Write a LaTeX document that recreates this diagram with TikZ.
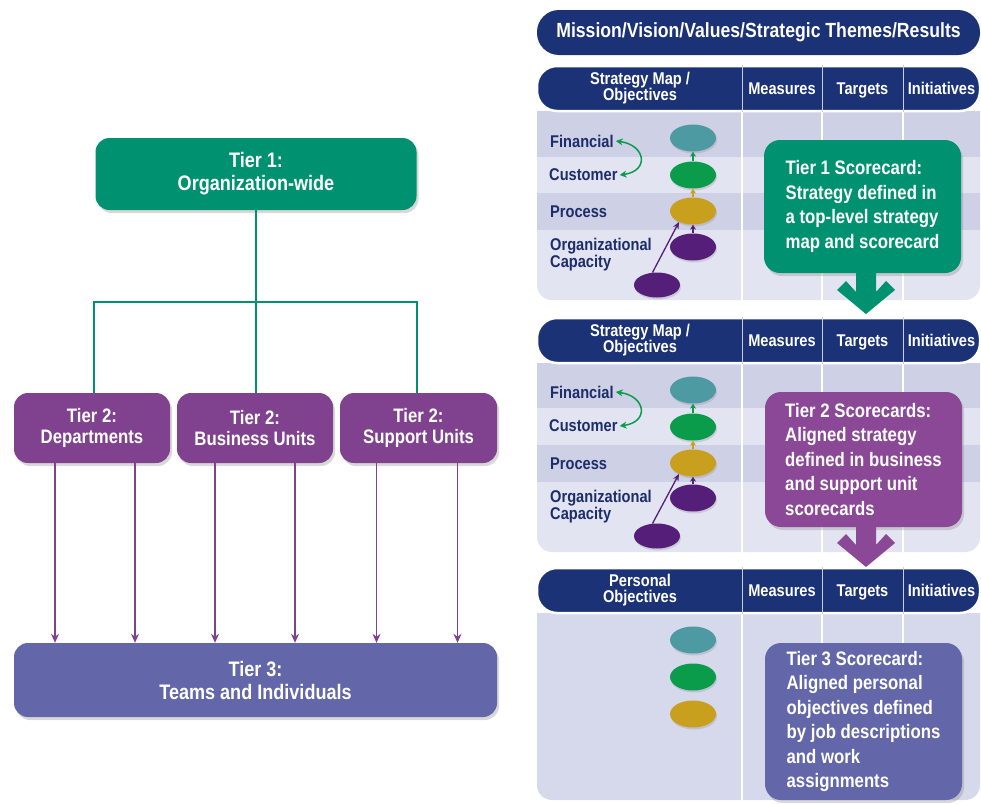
\documentclass[tikz,border=0pt]{standalone}
\usepackage{fontspec}
\setmainfont{Liberation Sans}[FakeStretch=0.86]
\usetikzlibrary{arrows.meta,shadows,shapes.geometric}
\definecolor{navy}{RGB}{27,50,118}
\definecolor{tgreen}{RGB}{0,146,112}
\definecolor{tpurple}{RGB}{128,66,143}
\definecolor{cpurple}{RGB}{138,72,150}
\definecolor{tblue}{RGB}{99,103,170}
\definecolor{rowdark}{RGB}{206,209,230}
\definecolor{rowlight}{RGB}{226,228,241}
\definecolor{bodythree}{RGB}{214,216,236}
\definecolor{labc}{RGB}{28,45,105}
\definecolor{sepc}{RGB}{200,205,228}
\definecolor{eteal}{RGB}{78,154,163}
\definecolor{egreen}{RGB}{10,155,75}
\definecolor{egold}{RGB}{200,160,30}
\definecolor{epurple}{RGB}{85,30,120}
\begin{document}
\begin{tikzpicture}[x=1pt,y=-1pt,
  shad/.style={drop shadow={opacity=0.3,shadow xshift=2pt,shadow yshift=-3pt}},
  box/.style={rounded corners=14pt,text=white,align=center,inner sep=0pt,shad},
  bigf/.style={font=\bfseries\fontsize{21}{23}\selectfont},
  midf/.style={font=\bfseries\fontsize{19.5}{21}\selectfont},
  gline/.style={draw=tgreen,line width=1.6pt},
  parr/.style={draw=tpurple,line width=1.3pt,-{Stealth[length=9pt,width=8pt]}},
  hdr/.style={fill=navy,draw=white,line width=2.5pt,rounded corners=20pt,minimum width=443pt,minimum height=45pt,inner sep=0pt},
  htext/.style={text=white,align=center,inner sep=0pt,font=\bfseries\fontsize{17}{16}\selectfont},
  hone/.style={htext,anchor=base},
  lab/.style={text=labc,align=left,inner sep=2pt,anchor=west,font=\bfseries\fontsize{17}{17}\selectfont},
  ell/.style={ellipse,minimum width=46pt,minimum height=27pt,inner sep=0pt,drop shadow={opacity=0.25,shadow xshift=1pt,shadow yshift=-2pt}},
  sarr/.style={line width=1.5pt,-{Stealth[length=5pt,width=6pt]}},
  callout/.style={rounded corners=16pt,text=white,align=left,minimum width=197pt,inner sep=0pt,shad,font=\bfseries\fontsize{19.5}{24.5}\selectfont},
  sepw/.style={draw=white,line width=1.2pt},
  seph/.style={draw=sepc,line width=1pt}
]
\fill[white] (0,0) rectangle (981,803);
\useasboundingbox (0,0) rectangle (981,803);

% ---------------- left hierarchy ----------------
\node[box,bigf,fill=tgreen,minimum width=321pt,minimum height=72pt] (t1) at (256,174) {Tier 1:\\Organization-wide};
\node[box,midf,fill=tpurple,minimum width=156pt,minimum height=70pt] (dep) at (92,428) {Tier 2:\\Departments};
\node[box,midf,fill=tpurple,minimum width=156pt,minimum height=70pt] (bu) at (255,428) {Tier 2:\\Business Units};
\node[box,midf,fill=tpurple,minimum width=157pt,minimum height=70pt] (su) at (418.5,428) {Tier 2:\\Support Units};
\node[box,bigf,fill=tblue,minimum width=483pt,minimum height=74pt] (t3) at (255.5,680) {Tier 3:\\Teams and Individuals};

\coordinate (jn) at (256,302);
\draw[gline] (t1.south) -- (jn);
\draw[gline] ([xshift=2pt]dep.north) |- (jn) -| ([xshift=-1.5pt]su.north);
\draw[gline] (jn) -- ([xshift=1pt]bu.north);

\foreach \n/\a/\b in {dep/-37/43,bu/-40/40,su/-42/39}{
  \draw[parr] ([xshift=\a pt]\n.south) -- ([xshift=\a pt]\n.south |- t3.north);
  \draw[parr] ([xshift=\b pt]\n.south) -- ([xshift=\b pt]\n.south |- t3.north);
}

% ---------------- right: banner ----------------
\node[hdr,draw=none,rounded corners=22pt,text=white,font=\bfseries\fontsize{20.5}{22}\selectfont] (mv) at (758.5,32.5) {Mission/Vision/Values/Strategic Themes/Results};

% ---------------- panel 1 ----------------
\fill[rowlight] (537,111) {[rounded corners=15pt] -- (537,300) -- (980,300)} -- (980,111) -- cycle;
\fill[rowdark] (537,111) rectangle (980,157);
\fill[rowdark] (537,193) rectangle (980,230);
\foreach \x in {742,822,903} \draw[sepw] (\x,111) -- (\x,300);
\node[hdr] (h1) at (758.5,88.5) {};
\foreach \x in {742,822,903} \draw[seph] (\x,0 |- h1.north) -- (\x,0 |- h1.south);
\node[htext] at (640,88.5) {Strategy Map /\\Objectives};
\node[hone] at (782,94.5) {Measures};
\node[hone] at (862.5,94.5) {Targets};
\node[hone] at (941.5,94.5) {Initiatives};

\node[lab] (lf1) at (548,141) {Financial};
\node[lab] (lc1) at (547,175) {Customer};
\node[lab] (lp1) at (548,212) {Process};
\node[lab] (lo1) at (548,254.5) {Organizational\\Capacity};
\draw[draw=egreen,line width=1.5pt,{Stealth[length=7pt,width=7pt]}-{Stealth[length=7pt,width=7pt]}] (lf1.east) .. controls +(30,4) and +(30,-4) .. (lc1.east);

\node[ell,fill=eteal] (f1) at (693,138) {};
\node[ell,fill=egreen] (c1) at (693,175) {};
\node[ell,fill=egold] (p1) at (693,211) {};
\node[ell,fill=epurple] (o1) at (693,247) {};
\node[ell,fill=epurple,minimum height=25pt] (b1) at (657,285) {};
\draw[sarr,egreen] (c1.north) -- (f1.south);
\draw[sarr,egold] (p1.north) -- (c1.south);
\draw[sarr,epurple] (o1.north) -- (p1.south);
\draw[epurple,line width=1.3pt,-{Stealth[length=7pt,width=6pt]}] (b1.110) -- (p1.218);

\node[callout,fill=tgreen,minimum height=133pt] (cs1) at (862.5,206.5) {Tier 1 Scorecard:\\Strategy defined in\\a top-level strategy\\map and scorecard};
\fill[tgreen] (856,262) -- (876,262) -- (876,292) -- (886,281) -- (895,290) -- (866,314) -- (837,290) -- (846,281) -- (856,292) -- cycle;

% ---------------- panel 2 ----------------
\fill[rowlight] (537,363) {[rounded corners=15pt] -- (537,552) -- (980,552)} -- (980,363) -- cycle;
\fill[rowdark] (537,363) rectangle (980,408);
\fill[rowdark] (537,445) rectangle (980,482);
\foreach \x in {742,822,903} \draw[sepw] (\x,363) -- (\x,552);
\node[hdr] (h2) at (758.5,340.5) {};
\foreach \x in {742,822,903} \draw[seph] (\x,0 |- h2.north) -- (\x,0 |- h2.south);
\node[htext] at (640,340.5) {Strategy Map /\\Objectives};
\node[hone] at (782,346.5) {Measures};
\node[hone] at (862.5,346.5) {Targets};
\node[hone] at (941.5,346.5) {Initiatives};

\node[lab] (lf2) at (548,392) {Financial};
\node[lab] (lc2) at (547,426) {Customer};
\node[lab] (lp2) at (548,464) {Process};
\node[lab] (lo2) at (548,506.5) {Organizational\\Capacity};
\draw[draw=egreen,line width=1.5pt,{Stealth[length=7pt,width=7pt]}-{Stealth[length=7pt,width=7pt]}] (lf2.east) .. controls +(30,4) and +(30,-4) .. (lc2.east);

\node[ell,fill=eteal] (f2) at (693,390) {};
\node[ell,fill=egreen] (c2) at (693,427) {};
\node[ell,fill=egold] (p2) at (693,463) {};
\node[ell,fill=epurple] (o2) at (693,498) {};
\node[ell,fill=epurple,minimum height=25pt] (b2) at (657,536) {};
\draw[sarr,egreen] (c2.north) -- (f2.south);
\draw[sarr,egold] (p2.north) -- (c2.south);
\draw[sarr,epurple] (o2.north) -- (p2.south);
\draw[epurple,line width=1.3pt,-{Stealth[length=7pt,width=6pt]}] (b2.110) -- (p2.218);

\node[callout,fill=cpurple,minimum height=135pt] (cs2) at (863.5,459.5) {Tier 2 Scorecards:\\Aligned strategy\\defined in business\\and support unit\\scorecards};
\fill[cpurple] (856,515) -- (876,515) -- (876,545) -- (886,534) -- (895,543) -- (866,567) -- (837,543) -- (846,534) -- (856,545) -- cycle;

% ---------------- panel 3 ----------------
\fill[bodythree] (537,613) {[rounded corners=15pt] -- (537,800) -- (980,800)} -- (980,613) -- cycle;
\foreach \x in {742,822,903} \draw[sepw] (\x,613) -- (\x,800);
\node[hdr] (h3) at (758.5,590.5) {};
\foreach \x in {742,822,903} \draw[seph] (\x,0 |- h3.north) -- (\x,0 |- h3.south);
\node[htext] at (640,590.5) {Personal\\Objectives};
\node[hone] at (782,596.5) {Measures};
\node[hone] at (862.5,596.5) {Targets};
\node[hone] at (941.5,596.5) {Initiatives};

\node[ell,fill=eteal] (f3) at (693,640) {};
\node[ell,fill=egreen] (c3) at (693,677) {};
\node[ell,fill=egold] (p3) at (693,714) {};

\node[callout,fill=tblue,minimum height=157pt] (cs3) at (863.5,721.5) {Tier 3 Scorecard:\\Aligned personal\\objectives defined\\by job descriptions\\and work\\assignments};
\end{tikzpicture}
\end{document}
